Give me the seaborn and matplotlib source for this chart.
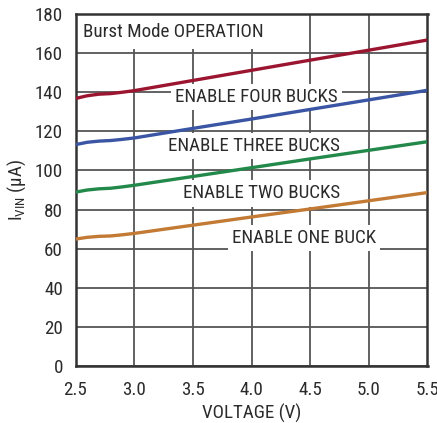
import matplotlib
matplotlib.use("Agg")
import matplotlib.pyplot as plt
import seaborn as sns
import pandas as pd
from matplotlib import font_manager

# Supply current vs. input voltage, Burst Mode operation
voltage = [2.5, 2.6, 2.7, 2.8, 2.9, 3.0, 3.5, 4.0, 4.5, 5.0, 5.5]
four_bucks = [136.8, 138.2, 139.0, 139.3, 140.0, 140.8, 146.0, 151.2, 156.4, 161.5, 166.7]
three_bucks = [113.2, 114.4, 115.0, 115.3, 115.9, 116.6, 121.5, 126.3, 131.2, 136.1, 141.0]
two_bucks = [88.9, 90.0, 90.6, 90.9, 91.6, 92.4, 96.9, 101.4, 105.9, 110.3, 114.7]
one_buck = [64.9, 65.8, 66.3, 66.5, 67.1, 67.8, 72.0, 76.2, 80.3, 84.5, 88.7]

series_names = ["ENABLE FOUR BUCKS", "ENABLE THREE BUCKS", "ENABLE TWO BUCKS", "ENABLE ONE BUCK"]
series_colors = ["#9b1530", "#3a55a4", "#23894a", "#c27a35"]
x_ticks = [2.5, 3.0, 3.5, 4.0, 4.5, 5.0, 5.5]
y_ticks = [0, 20, 40, 60, 80, 100, 120, 140, 160, 180]

df = pd.DataFrame({
    "voltage": voltage * 4,
    "current": four_bucks + three_bucks + two_bucks + one_buck,
    "series": sum([[n] * len(voltage) for n in series_names], []),
})

sns.set_style("white")
available = {f.name for f in font_manager.fontManager.ttflist}
preferred = ["Roboto Condensed", "Liberation Sans Narrow", "Roboto"]
font = next(f for f in preferred + ["DejaVu Sans"] if f in available)
plt.rcParams["font.family"] = [font, "DejaVu Sans"]
plt.rcParams["mathtext.fontset"] = "custom"
plt.rcParams["mathtext.rm"] = font

text_color = "#2b2b2b"
fs = 13.7
fig = plt.figure(figsize=(4.37, 4.23), dpi=100)
ax = fig.add_axes([75.5 / 437, 57 / 423, 352 / 437, 352 / 423])

sns.lineplot(data=df, x="voltage", y="current", hue="series", palette=series_colors,
             hue_order=series_names, linewidth=2.4, legend=False, ax=ax, zorder=4)

ax.set_xlim(2.5, 5.5)
ax.set_ylim(0, 180)
ax.set_xticks(x_ticks)
ax.set_yticks(y_ticks)
ax.set_xticklabels([f"{v:.1f}" for v in x_ticks])
ax.grid(True, color="#555555", linewidth=1.3)
ax.set_axisbelow(True)
for s in ax.spines.values():
    s.set_color("#333333")
    s.set_linewidth(1.8)
ax.tick_params(axis="y", length=0, labelsize=fs, colors=text_color, pad=9)
ax.tick_params(axis="x", length=0, labelsize=fs, colors=text_color, pad=11)

ax.set_xlabel("VOLTAGE (V)", fontsize=fs, color=text_color, labelpad=3)
ax.set_ylabel(r"I$_{\mathregular{VIN}}$ (μA)", fontsize=fs, color=text_color, labelpad=5)

ax.text(2.564, 168.4, "Burst Mode OPERATION", fontsize=fs, color=text_color,
        ha="left", va="baseline", zorder=2,
        bbox=dict(boxstyle="square,pad=0.45", facecolor="white", edgecolor="none"))

box = dict(boxstyle="square,pad=0.22", facecolor="white", edgecolor="none")
label_pos = [(4.044, 135.1), (4.019, 110.1), (4.09, 85.7), (4.447, 63.0)]
for name, (lx, ly) in zip(series_names, label_pos):
    ax.text(lx, ly, name, fontsize=fs, color=text_color, ha="center", va="baseline",
            bbox=box, zorder=2)

fig.savefig("out.png", dpi=100)
